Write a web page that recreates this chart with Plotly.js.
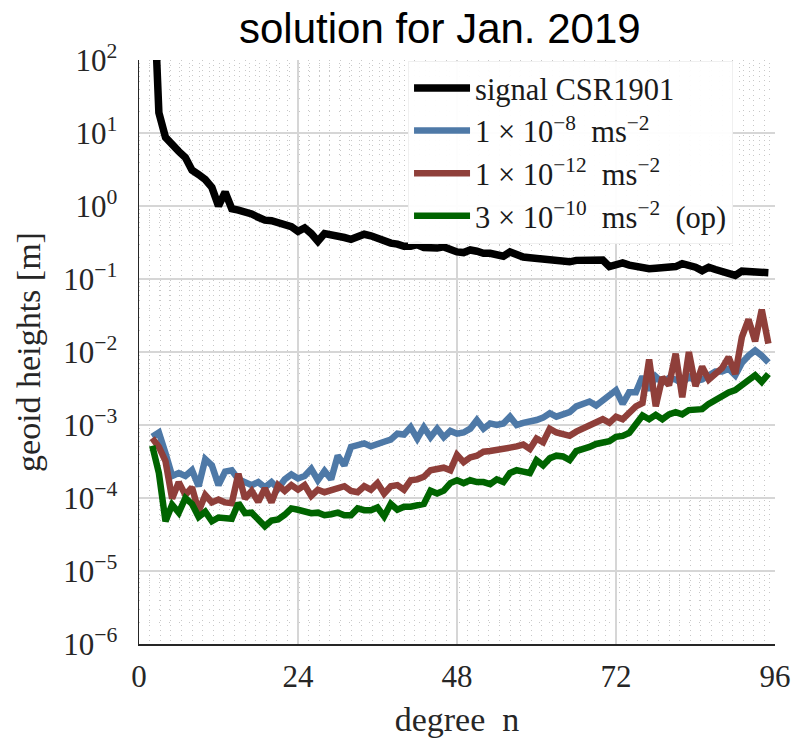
<!DOCTYPE html>
<html><head><meta charset="utf-8">
<script src="https://cdn.plot.ly/plotly-3.0.1.min.js"></script>
<style>html,body{margin:0;padding:0;background:#fff}#chart{width:794px;height:738px}</style>
</head><body><div id="chart"></div>
<script>
const degree = [2,3,4,5,6,7,8,9,10,11,12,13,14,15,16,17,18,19,20,21,22,23,24,25,26,27,28,29,30,31,32,33,34,35,36,37,38,39,40,41,42,43,44,45,46,47,48,49,50,51,52,53,54,55,56,57,58,59,60,61,62,63,64,65,66,67,68,69,70,71,72,73,74,75,76,77,78,79,80,81,82,83,84,85,86,87,88,89,90,91,92,93,94,95];

const signalCSR = [3000,19,8.7,6.8,5.6,4.6,3.1,2.7,2.3,1.8,1.0,1.55,0.92,0.88,0.85,0.78,0.70,0.64,0.63,0.60,0.57,0.52,0.45,0.50,0.42,0.33,0.42,0.41,0.40,0.37,0.35,0.38,0.41,0.39,0.355,0.34,0.31,0.30,0.28,0.28,0.295,0.27,0.26,0.265,0.275,0.25,0.235,0.23,0.25,0.24,0.225,0.225,0.215,0.205,0.235,0.21,0.20,0.195,0.19,0.182,0.178,0.174,0.17,0.172,0.18,0.182,0.18,0.18,0.182,0.148,0.158,0.166,0.155,0.148,0.14,0.138,0.14,0.142,0.145,0.148,0.162,0.155,0.145,0.13,0.145,0.135,0.128,0.12,0.112,0.128,0.128,0.126,0.127,0.122];

const reg1e8 = [6.9e-4,7.9e-4,4.1e-4,2.0e-4,2.2e-4,2.0e-4,2.4e-4,1.45e-4,3.4e-4,2.8e-4,
1.5e-4,2.3e-4,2.4e-4,1.8e-4,1.65e-4,1.5e-4,1.65e-4,1.4e-4,1.65e-4,1.35e-4,
1.8e-4,2.1e-4,1.85e-4,2.0e-4,2.5e-4,1.75e-4,2.35e-4,1.8e-4,3.8e-4,2.8e-4,
5.0e-4,5.2e-4,5.6e-4,5.1e-4,5.6e-4,5.9e-4,6.3e-4,7.6e-4,7.4e-4,9.3e-4,
6.5e-4,9.3e-4,6.8e-4,8.9e-4,6.8e-4,8.3e-4,7.6e-4,7.9e-4,8.9e-4,1.17e-3,
8.9e-4,1.05e-3,1.0e-3,1.05e-3,1.3e-3,1.0e-3,1.07e-3,1.1e-3,1.17e-3,1.26e-3,
1.45e-3,1.3e-3,1.38e-3,1.5e-3,1.8e-3,1.9e-3,2.1e-3,1.85e-3,2.2e-3,2.5e-3,
3.0e-3,1.95e-3,2.8e-3,2.8e-3,4.6e-3,3.0e-3,4.6e-3,3.8e-3,4.4e-3,4.2e-3,
3.7e-3,4.6e-3,4.0e-3,4.2e-3,4.7e-3,5.4e-3,5.4e-3,5.9e-3,4.8e-3,7.1e-3,
8.9e-3,1.05e-2,8.9e-3,7.2e-3];

const reg1e12 = [6.6e-4,5.0e-4,3.2e-4,9.8e-5,1.65e-4,1.1e-4,1.4e-4,6.6e-5,1.1e-4,8.7e-5,
9.5e-5,8.7e-5,8.5e-5,2.15e-4,9.8e-5,1.25e-4,8.9e-5,1.35e-4,8.7e-5,1.5e-4,
1.25e-4,1.5e-4,1.3e-4,1.5e-4,1.07e-4,1.3e-4,1.2e-4,1.3e-4,1.4e-4,1.45e-4,
1.25e-4,1.2e-4,1.45e-4,1.3e-4,1.6e-4,1.15e-4,1.45e-4,1.5e-4,1.3e-4,1.75e-4,
1.8e-4,1.95e-4,2.4e-4,2.5e-4,2.6e-4,2.4e-4,3.9e-4,3.1e-4,3.6e-4,3.8e-4,
4.3e-4,4.4e-4,4.5e-4,4.6e-4,4.9e-4,5.1e-4,5.4e-4,4.7e-4,6.5e-4,5.8e-4,
8.9e-4,7.9e-4,7.4e-4,7.1e-4,8.1e-4,8.9e-4,9.8e-4,1.05e-3,1.2e-3,1.07e-3,
1.3e-3,1.2e-3,1.5e-3,1.8e-3,2.0e-3,7.9e-3,1.8e-3,4.5e-3,3.5e-3,9.5e-3,
2.4e-3,1.0e-2,3.4e-3,6.3e-3,4.2e-3,5.0e-3,6.0e-3,8.5e-3,5.0e-3,1.6e-2,
2.8e-2,1.4e-2,3.8e-2,1.3e-2];

const reg3e10 = [5.2e-4,2.2e-4,4.8e-5,8.1e-5,6.3e-5,1.0e-4,8.3e-5,5.5e-5,6.5e-5,4.8e-5,
5.4e-5,5.4e-5,5.2e-5,8.5e-5,6.2e-5,6.3e-5,5.0e-5,4.1e-5,4.9e-5,5.1e-5,
5.9e-5,7.2e-5,6.9e-5,6.6e-5,6.2e-5,6.3e-5,5.8e-5,6.0e-5,6.3e-5,5.8e-5,
5.8e-5,7.2e-5,6.8e-5,6.8e-5,7.4e-5,5.6e-5,8.3e-5,6.9e-5,7.6e-5,7.6e-5,
7.9e-5,8.3e-5,1.26e-4,1.15e-4,1.26e-4,1.6e-4,1.75e-4,1.6e-4,1.75e-4,1.65e-4,
1.65e-4,1.55e-4,1.8e-4,1.65e-4,2.2e-4,2.4e-4,2.3e-4,2.2e-4,3.3e-4,2.8e-4,
3.5e-4,3.8e-4,3.7e-4,3.3e-4,4.4e-4,4.6e-4,5.0e-4,5.5e-4,5.9e-4,6.0e-4,
6.9e-4,7.1e-4,7.8e-4,1.07e-3,1.35e-3,1.2e-3,1.38e-3,1.2e-3,1.4e-3,1.5e-3,
1.4e-3,1.6e-3,1.6e-3,1.65e-3,1.95e-3,2.2e-3,2.6e-3,2.8e-3,3.0e-3,3.5e-3,
4.2e-3,4.8e-3,3.9e-3,5.0e-3];

const seriesNames = ["signal CSR1901",
  "1 × 10<sup>−8</sup>&nbsp; ms<sup>−2</sup>",
  "1 × 10<sup>−12</sup>&nbsp; ms<sup>−2</sup>",
  "3 × 10<sup>−10</sup>&nbsp; ms<sup>−2</sup>&nbsp; (op)"];
const seriesColors = ["#000000", "#4e79a7", "#8f3f3a", "#006400"];
const seriesWidths = [7.5, 6.5, 6.5, 6.5];

const xTicks = [0, 24, 48, 72, 96];
const yTickVals = [1e-6, 1e-5, 1e-4, 1e-3, 1e-2, 1e-1, 1e0, 1e1, 1e2];
const yTickText = ["10<sup>−6</sup>","10<sup>−5</sup>","10<sup>−4</sup>","10<sup>−3</sup>","10<sup>−2</sup>","10<sup>−1</sup>","10<sup>0</sup>","10<sup>1</sup>","10<sup>2</sup>"];

const allSeries = [signalCSR, reg1e8, reg1e12, reg3e10];
const traces = allSeries.map((ys, i) => ({
  x: degree, y: ys, type: 'scatter', mode: 'lines', name: seriesNames[i],
  line: {color: seriesColors[i], width: seriesWidths[i], shape: 'linear'}, cliponaxis: true
}));

const serif = 'Liberation Serif, Times New Roman, serif';
const layout = {
  width: 794, height: 738,
  margin: {l: 139, r: 19, t: 60, b: 94},
  paper_bgcolor: '#ffffff', plot_bgcolor: '#ffffff',
  title: {text: 'solution for Jan. 2019', font: {family: 'Liberation Sans, Arial, sans-serif', size: 42, color: '#000'},
          x: 0.473, xref: 'paper', xanchor: 'center', y: 0.962, yref: 'container', yanchor: 'middle'},
  showlegend: true,
  legend: {x: 0.423, y: 0.999, xanchor: 'left', yanchor: 'top', bgcolor: 'rgba(255,255,255,0.95)',
           bordercolor: '#f0f0f0', borderwidth: 1, itemwidth: 56,
           font: {family: serif, size: 30.5, color: '#1a1a1a'}, tracegroupgap: 0},
  xaxis: {range: [0, 96], tickmode: 'array', tickvals: xTicks, ticktext: xTicks.map(String),
          showgrid: true, gridcolor: '#d6d6d6', gridwidth: 2,
          showline: true, linecolor: '#262626', linewidth: 1.5, zeroline: false,
          ticks: '', ticklabelstandoff: 4,
          tickfont: {family: serif, size: 31, color: '#262626'},
          title: {text: 'degree&nbsp; n', font: {family: serif, size: 34, color: '#262626'}, standoff: 16},
          minor: {dtick: 1.6, tick0: 0, showgrid: true, gridcolor: '#c8c8c8', gridwidth: 1, griddash: '1px,4px'}},
  yaxis: {type: 'log', range: [-6, 2], tickmode: 'array', tickvals: yTickVals, ticktext: yTickText,
          showgrid: true, gridcolor: '#d6d6d6', gridwidth: 2,
          showline: true, linecolor: '#262626', linewidth: 1.5, zeroline: false,
          ticks: '', ticklabelstandoff: 14,
          tickfont: {family: serif, size: 31, color: '#262626'},
          title: {text: 'geoid heights [m]', font: {family: serif, size: 34, color: '#262626'}, standoff: 12},
          minor: {dtick: 'D1', showgrid: true, gridcolor: '#c8c8c8', gridwidth: 1, griddash: '1px,9px'}}
};

Plotly.newPlot('chart', traces, layout, {displayModeBar: false, staticPlot: true});
</script>
</body></html>
